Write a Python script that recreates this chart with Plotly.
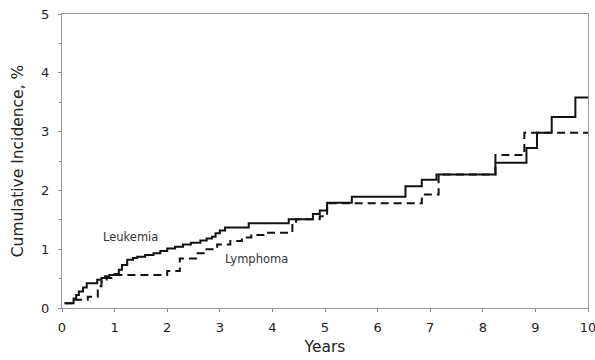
import plotly.graph_objects as go

# Leukemia (solid) step points: years, cumulative incidence %
leuk_x = [0.05, 0.22, 0.27, 0.32, 0.4, 0.47, 0.67, 0.75, 0.82, 0.9, 1.0, 1.08, 1.14, 1.24, 1.35, 1.43,
          1.58, 1.74, 1.87, 2.0, 2.15, 2.3, 2.45, 2.63, 2.75, 2.85, 2.92, 3.0, 3.1, 3.55, 4.31, 4.77,
          4.9, 5.04, 5.51, 6.53, 6.84, 7.12, 8.24, 8.83, 9.03, 9.31, 9.76, 10]
leuk_y = [0.08, 0.16, 0.22, 0.28, 0.35, 0.42, 0.48, 0.51, 0.54, 0.56, 0.58, 0.65, 0.73, 0.82, 0.85, 0.87,
          0.9, 0.93, 0.97, 1.01, 1.04, 1.08, 1.11, 1.15, 1.18, 1.21, 1.27, 1.32, 1.37, 1.44, 1.51, 1.6,
          1.66, 1.79, 1.89, 2.07, 2.18, 2.27, 2.47, 2.72, 2.98, 3.25, 3.58, 3.58]

# Lymphoma (dashed)
lymph_x = [0.05, 0.25, 0.49, 0.68, 0.75, 0.85, 1.0, 2.0, 2.24, 2.55, 2.72, 2.95, 3.2, 3.42, 3.6, 3.85,
           4.38, 4.45, 4.9, 5.04, 6.84, 7.16, 8.24, 8.79, 10]
lymph_y = [0.08, 0.14, 0.19, 0.37, 0.45, 0.51, 0.56, 0.63, 0.84, 0.93, 1.0, 1.08, 1.14, 1.2, 1.24, 1.28,
           1.44, 1.51, 1.56, 1.78, 1.93, 2.27, 2.6, 2.98, 2.98]

x_ticks = [0, 1, 2, 3, 4, 5, 6, 7, 8, 9, 10]
y_ticks = [0, 1, 2, 3, 4, 5]

fig = go.Figure()
fig.add_trace(go.Scatter(x=lymph_x, y=lymph_y, mode="lines", line_shape="hv",
                         line=dict(color="#111111", width=2, dash="8px,5px"), name="Lymphoma"))
fig.add_trace(go.Scatter(x=leuk_x, y=leuk_y, mode="lines", line_shape="hv",
                         line=dict(color="#111111", width=2), name="Leukemia"))

fig.add_annotation(x=1.3, y=1.2, text="Leukemia", showarrow=False,
                   font=dict(family="DejaVu Sans", size=11.5, color="#333333"))
fig.add_annotation(x=3.7, y=0.83, text="Lymphoma", showarrow=False,
                   font=dict(family="DejaVu Sans", size=11.5, color="#333333"))

fig.update_layout(
    width=595, height=360,
    margin=dict(l=62, r=7, t=14, b=52),
    paper_bgcolor="white", plot_bgcolor="white",
    showlegend=False,
    font=dict(family="DejaVu Sans", size=12, color="#222222"),
    xaxis=dict(range=[0, 10], tickvals=x_ticks, ticks="outside", ticklen=3, tickcolor="#888888",
               showgrid=False, zeroline=False, showline=True, linecolor="#999999", linewidth=1,
               mirror=True, ticklabeloverflow="allow", ticklabelstandoff=4, automargin=False,
               title=dict(text="Years", font=dict(size=15.5), standoff=7),
               tickfont=dict(size=13)),
    yaxis=dict(range=[0, 5], tickvals=y_ticks, ticks="outside", ticklen=3, tickcolor="#888888",
               minor=dict(dtick=0.5, ticks="outside", ticklen=2, tickcolor="#888888"),
               showgrid=False, zeroline=False, showline=True, linecolor="#999999", linewidth=1,
               mirror=True, ticklabelstandoff=6, automargin=False,
               title=dict(text="Cumulative Incidence, %", font=dict(size=15.5), standoff=13),
               tickfont=dict(size=13)),
)

fig.write_html("out.html")
